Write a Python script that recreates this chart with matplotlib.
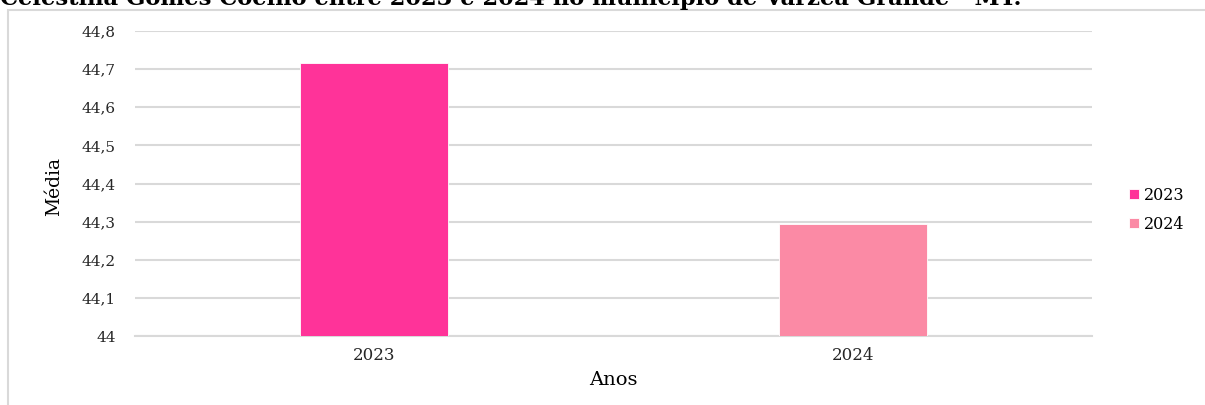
import matplotlib
matplotlib.use("Agg")
from matplotlib import pyplot as plt
from matplotlib.patches import Rectangle
from matplotlib.ticker import FuncFormatter, MultipleLocator

years = ["2023", "2024"]
medias = [44.715, 44.293]
colors = ["#FF3399", "#FB8AA5"]
title = "Celestina Gomes Coelho entre 2023 e 2024 no município de Várzea Grande - MT."

W, H = 1205, 405
fig = plt.figure(figsize=(W / 100, H / 100), dpi=100)

# moldura cinza do gráfico
fig.patches.append(Rectangle((8 / W, -0.1), 1.2, 1 - 10 / H + 0.1, transform=fig.transFigure,
                             fill=False, edgecolor="#D9D9D9", linewidth=1.5))

ax = fig.add_axes([135 / W, 1 - 336 / H, (1092 - 135) / W, (336 - 31) / H])

x = list(range(len(years)))
bars = ax.bar(x, medias, width=0.31, color=colors, edgecolor="white", linewidth=0.6,
              label=years, zorder=3)
ax.set_xlim(-0.5, 1.5)
ax.set_ylim(44, 44.8)
ax.yaxis.set_major_locator(MultipleLocator(0.1))
ax.yaxis.set_major_formatter(FuncFormatter(
    lambda v, p: ("%g" % round(v, 1)).replace(".", ",")))
ax.grid(axis="y", color="#D9D9D9", linewidth=1.5, zorder=0)
for s in ["top", "right", "left"]:
    ax.spines[s].set_visible(False)
ax.spines["bottom"].set_color("#D9D9D9")
ax.spines["bottom"].set_linewidth(1.5)
ax.tick_params(length=0)
ax.tick_params(axis="y", pad=14)
ax.tick_params(axis="x", pad=8)
ax.set_xticks(x)
ax.set_xticklabels(years)
for lab in ax.get_yticklabels():
    lab.set_family("DejaVu Serif")
    lab.set_fontsize(11)
    lab.set_color("#262626")
for lab in ax.get_xticklabels():
    lab.set_family("DejaVu Serif")
    lab.set_fontsize(12)
    lab.set_color("#262626")

fig.text(54 / W, 1 - 187 / H, "Média", rotation=90, ha="center", va="center",
         family="DejaVu Serif", fontsize=13.5)
fig.text(613 / W, 1 - 380 / H, "Anos", ha="center", va="center",
         family="DejaVu Serif", fontsize=14)

leg = fig.legend(handles=bars, labels=years, loc="center left",
                 bbox_to_anchor=(1115 / W, 1 - 210 / H), frameon=False,
                 prop={"family": "DejaVu Serif", "size": 11.5},
                 handlelength=0.6, handleheight=0.6, handletextpad=0.3,
                 labelspacing=0.75)

# título cortado no topo, como na imagem original
fig.text(0, 1 - 5 / H, title, ha="left", va="baseline", family="DejaVu Serif",
         fontweight="bold", fontsize=16.3)

fig.savefig("out.png", dpi=100)
